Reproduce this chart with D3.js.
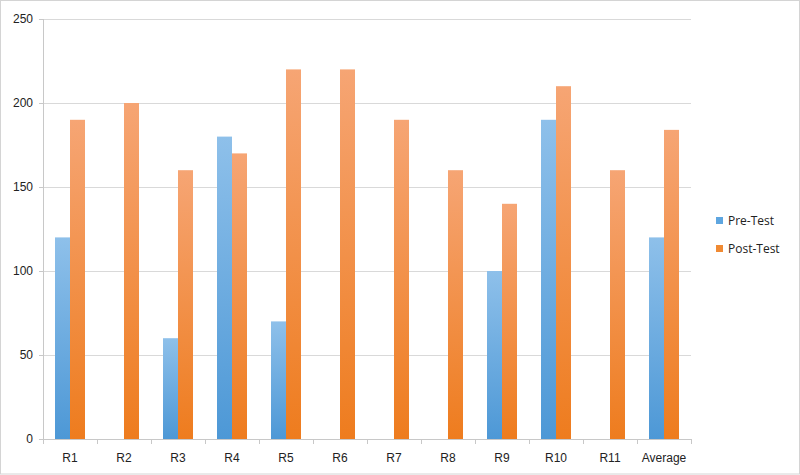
<!DOCTYPE html>
<html>
<head>
<meta charset="utf-8">
<script src="https://cdn.jsdelivr.net/npm/d3@7"></script>
<style>
  html, body { margin: 0; padding: 0; background: #fff; }
  svg { display: block; font-family: "Open Sans", "Liberation Sans", sans-serif; }
</style>
</head>
<body>
<div id="chart"></div>
<script>
const categories = ["R1", "R2", "R3", "R4", "R5", "R6", "R7", "R8", "R9", "R10", "R11", "Average"];
const preTest  = [120, 0, 60, 180, 70, 0, 0, 0, 100, 190, 0, 120];
const postTest = [190, 200, 160, 170, 220, 220, 190, 160, 140, 210, 160, 184];
const seriesNames = ["Pre-Test", "Post-Test"];
const yTicks = [0, 50, 100, 150, 200, 250];

const W = 800, H = 475;
const margin = { top: 19, right: 109, bottom: 36, left: 43 };
const w = W - margin.left - margin.right;
const h = H - margin.top - margin.bottom;

const svg = d3.select("#chart").append("svg")
  .attr("width", W).attr("height", H);

/* gradients */
const defs = svg.append("defs");
const grads = [
  { id: "gPre", top: "#8ec0ea", bottom: "#4d98d6" },
  { id: "gPost", top: "#f6a574", bottom: "#ee7c1e" }
];
grads.forEach(gd => {
  const lg = defs.append("linearGradient").attr("id", gd.id)
    .attr("x1", 0).attr("y1", 0).attr("x2", 0).attr("y2", 1);
  lg.append("stop").attr("offset", "0%").attr("stop-color", gd.top);
  lg.append("stop").attr("offset", "100%").attr("stop-color", gd.bottom);
});

/* outer frame */
svg.append("rect")
  .attr("x", 0.5).attr("y", 0.5).attr("width", W - 1).attr("height", H - 1.5)
  .attr("fill", "none").attr("stroke", "#d4d4d4");

const g = svg.append("g").attr("transform", `translate(${margin.left},${margin.top})`);

const x = d3.scaleBand().domain(categories).range([0, w]).paddingInner(0).paddingOuter(0);
const xs = d3.scaleBand().domain(seriesNames).range([12, x.bandwidth() - 12]);
const y = d3.scaleLinear().domain([0, 250]).range([h, 0]);

/* grid */
g.append("g").selectAll("line").data(yTicks.filter(d => d > 0)).join("line")
  .attr("x1", 0).attr("x2", w)
  .attr("y1", d => Math.round(y(d)) + 0.5).attr("y2", d => Math.round(y(d)) + 0.5)
  .attr("stroke", "#d9d9d9");

/* bars */
const data = categories.map((c, i) => ({ c, vals: [preTest[i], postTest[i]] }));
const groups = g.append("g").selectAll("g").data(data).join("g")
  .attr("transform", d => `translate(${x(d.c)},0)`);
groups.selectAll("rect").data(d => d.vals.map((v, k) => ({ v, k }))).join("rect")
  .attr("x", d => xs(seriesNames[d.k]))
  .attr("width", xs.bandwidth())
  .attr("y", d => y(d.v))
  .attr("height", d => h - y(d.v))
  .attr("fill", d => d.k === 0 ? "url(#gPre)" : "url(#gPost)");

/* y axis */
const yAxis = g.append("g")
  .call(d3.axisLeft(y).tickValues(yTicks).tickSize(4).tickPadding(6))
  .call(a => a.select(".domain").attr("stroke", "#c8c8c8").attr("d", `M0.5,0V${h}`))
  .call(a => a.selectAll(".tick line").attr("stroke", "#c8c8c8"))
  .call(a => a.selectAll("text").attr("fill", "#222").style("font-size", "12px"));

/* x axis */
const xAxis = g.append("g").attr("transform", `translate(0,${h})`)
  .call(d3.axisBottom(x).tickSize(0).tickPadding(14))
  .call(a => a.select(".domain").attr("stroke", "#c8c8c8").attr("d", `M0,0.5H${w}`))
  .call(a => a.selectAll("text").attr("fill", "#222").style("font-size", "12px"));
xAxis.append("g").selectAll("line").data(d3.range(categories.length + 1)).join("line")
  .attr("x1", i => Math.round(i * x.step()) + 0.5).attr("x2", i => Math.round(i * x.step()) + 0.5)
  .attr("y1", 0).attr("y2", 5)
  .attr("stroke", "#c8c8c8");

/* legend */
const legend = svg.append("g").attr("transform", "translate(716,217)");
seriesNames.forEach((s, i) => {
  const row = legend.append("g").attr("transform", `translate(0,${i * 28})`);
  row.append("rect").attr("width", 7).attr("height", 7)
    .attr("fill", i === 0 ? "#5ea6e0" : "#f08a33");
  row.append("text").attr("x", 12).attr("y", 8)
    .attr("fill", "#222").style("font-size", "12px").text(s);
});
</script>
</body>
</html>
